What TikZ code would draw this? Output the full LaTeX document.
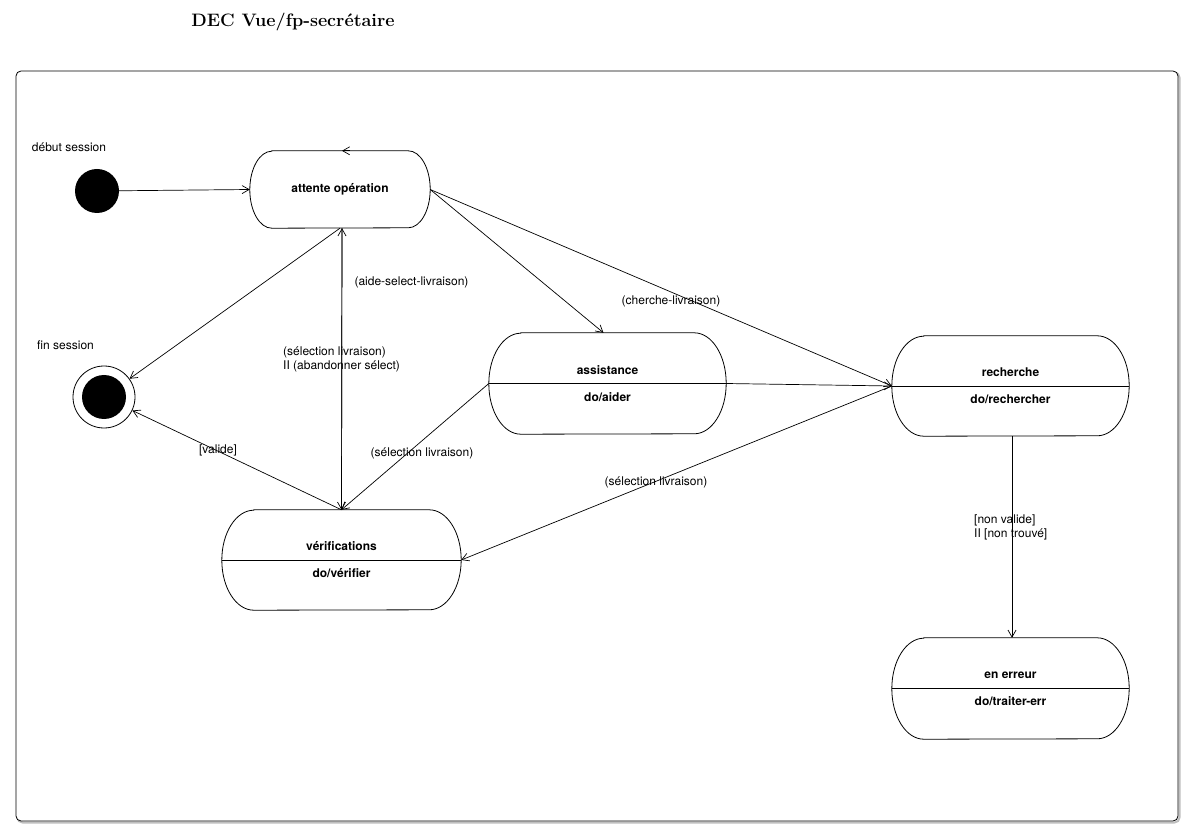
\documentclass[tikz,border=0pt]{standalone}
\usepackage{fontspec}
\setsansfont{TeX Gyre Heros}
\usetikzlibrary{arrows.meta}
\tikzset{
    etat/.style={rectangle, inner sep=0pt, minimum width=237pt, minimum height=100pt, align=center, font=\sffamily\bfseries\fontsize{12}{14}\selectfont},
    lbl/.style={font=\sffamily\fontsize{12}{14}\selectfont, inner sep=0pt, align=left},
    trans/.style={-{Straight Barb[length=7pt,width=8pt]}, line width=0.7pt},
}
\newcommand{\bordetat}[3]{%
    \draw[line width=0.8pt] ([xshift=#2]#1.north west) -- ([xshift=-#2]#1.north east)
        arc[start angle=90, end angle=-90, x radius=#2, y radius=#3]
        -- ([xshift=#2]#1.south west)
        arc[start angle=270, end angle=90, x radius=#2, y radius=#3] -- cycle;}
\begin{document}
\begin{tikzpicture}[x=1pt,y=1pt]
    \useasboundingbox (0,0) rectangle (1193,839);
    \node[font=\rmfamily\bfseries\fontsize{18}{22}\selectfont] (titre) at (293,817) {DEC Vue/fp-secrétaire};
    \draw[black!25, line width=2pt, rounded corners=5pt] (17.5,16.5) rectangle (1179.5,766.5);
    \draw[fill=white, line width=0.8pt, rounded corners=5pt] (16,18) rectangle (1178,768);

    \node[lbl] (ldebut) at (69,692) {début session};
    \node[circle, fill, minimum size=44pt, inner sep=0pt] (debut) at (97,648) {};
    \node[lbl] (lfin) at (65.5,494) {fin session};
    \node[circle, draw, line width=0.8pt, minimum size=62pt, inner sep=0pt] (fin) at (104,442) {};
    \node[circle, fill, minimum size=44pt, inner sep=0pt] (finpt) at (fin) {};

    \node[etat, minimum width=180pt, minimum height=77pt] (attente) at (340,649.5) {attente opération};
    \node[etat, minimum height=101pt] (assistance) at (607.5,455.5) {assistance\\[13pt]do/aider};
    \node[etat] (recherche) at (1010.5,453) {recherche\\[13pt]do/rechercher};
    \node[etat, minimum width=239pt] (verif) at (341.5,279) {vérifications\\[13pt]do/vérifier};
    \node[etat, minimum height=101pt] (erreur) at (1010.5,150.5) {en erreur\\[13pt]do/traiter-err};

    \bordetat{attente}{22pt}{38.5pt}
    \bordetat{assistance}{32pt}{50.5pt}
    \bordetat{recherche}{32pt}{50pt}
    \bordetat{verif}{32pt}{50pt}
    \bordetat{erreur}{32pt}{50.5pt}
    \draw[line width=0.8pt] (assistance.west) -- (assistance.east);
    \draw[line width=0.8pt] (recherche.west) -- (recherche.east);
    \draw[line width=0.8pt] (verif.west) -- (verif.east);
    \draw[line width=0.8pt] (erreur.west) -- (erreur.east);

    % transitions
    \draw[trans] (debut) -- (attente.west);
    \draw[trans] ([xshift=10pt]attente.north) -- ([xshift=2pt]attente.north);
    \draw[trans] (verif.north) -- ([xshift=2pt]attente.south);
    \draw[trans] ([xshift=2pt]attente.south) -- (verif.north);
    \draw[trans] (attente.south) -- (fin);
    \draw[trans] (verif.north) -- (fin);
    \draw[trans] (attente.east) -- ([xshift=-4pt]assistance.north);
    \draw[trans] (attente.east) -- (recherche.west);
    \draw[trans] (assistance.east) -- (recherche.west);
    \draw[trans] (recherche.west) -- (verif.east);
    \draw[trans] (assistance.west) -- (verif.north);
    \draw[trans] ([xshift=1.5pt]recherche.south) -- ([xshift=1.5pt]erreur.north);

    % labels
    \node[lbl] (laide) at (411.5,557) {(aide-select-livraison)};
    \node[lbl, anchor=west] (lselab) at (283,480) {(sélection livraison)\\II (abandonner sélect)};
    \node[lbl] (lvalide) at (218,389) {[valide]};
    \node[lbl] (lcherche) at (671,538) {(cherche-livraison)};
    \node[lbl] (lselun) at (422,386) {(sélection livraison)};
    \node[lbl] (lseldeux) at (656,357) {(sélection livraison)};
    \node[lbl, anchor=west] (lnonvalide) at (974,312) {[non valide]\\II [non trouvé]};
\end{tikzpicture}
\end{document}
